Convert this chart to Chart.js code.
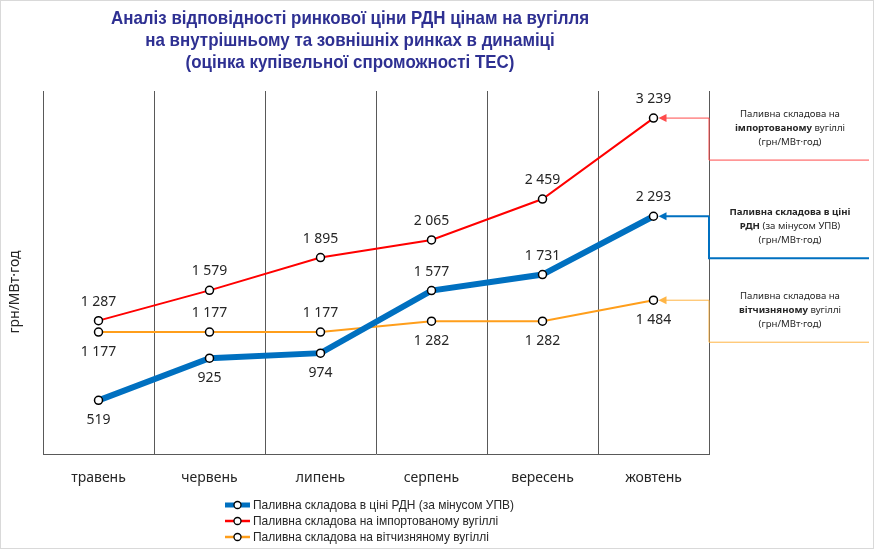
<!DOCTYPE html>
<html>
<head>
<meta charset="utf-8">
<script src="https://cdn.jsdelivr.net/npm/chart.js@4/dist/chart.umd.min.js"></script>
<style>
  html, body { margin: 0; padding: 0; background: #fff; }
  #wrap { width: 874px; height: 549px; position: relative; }
</style>
</head>
<body>
<div id="wrap"><canvas id="chart"></canvas></div>
<script>
// Data
const months = ['травень', 'червень', 'липень', 'серпень', 'вересень', 'жовтень'];
const rdnValues = [519, 925, 974, 1577, 1731, 2293];
const importValues = [1287, 1579, 1895, 2065, 2459, 3239];
const domesticValues = [1177, 1177, 1177, 1282, 1282, 1484];
const yRange = [0, 3500];

const titleLines = [
    'Аналіз відповідності ринкової ціни РДН цінам на вугілля',
    'на внутрішньому та зовнішніх ринках в динаміці',
    '(оцінка купівельної спроможності ТЕС)'
];
const seriesNames = [
    'Паливна складова в ціні РДН (за мінусом УПВ)',
    'Паливна складова на імпортованому вугіллі',
    'Паливна складова на вітчизняному вугіллі'
];
// side notes: [text, bold] segments per line
const sideNotes = [
    [[['Паливна складова в ціні', true]], [['РДН', true], [' (за мінусом УПВ)', false]], [['(грн/МВт·год)', false]]],
    [[['Паливна складова на', false]], [['імпортованому', true], [' вугіллі', false]], [['(грн/МВт·год)', false]]],
    [[['Паливна складова на', false]], [['вітчизняному', true], [' вугіллі', false]], [['(грн/МВт·год)', false]]]
];

const fmt = v => String(v).replace(/\B(?=(\d{3})+(?!\d))/g, ' ');
const sans = "'Noto Sans', 'Open Sans', sans-serif";
const lib = "'Liberation Sans', Arial, sans-serif";

// draw text squeezed horizontally (stand-in for a condensed face)
function squeezed(ctx, text, x, y, sx, align) {
    ctx.save();
    ctx.translate(x, y);
    ctx.scale(sx, 1);
    ctx.textAlign = align;
    ctx.fillText(text, 0, 0);
    ctx.restore();
}

const extras = {
    id: 'extras',
    afterDatasetsDraw(chart) {
        const ctx = chart.ctx;
        ctx.save();
        ctx.font = '14px ' + sans;
        ctx.fillStyle = '#262626';
        ctx.textAlign = 'center';
        ctx.textBaseline = 'middle';
        chart.data.datasets.forEach((ds, i) => {
            const meta = chart.getDatasetMeta(i);
            meta.data.forEach((pt, j) => {
                const dy = ds.labelPos[j] === 'below' ? 20 : -19;
                ctx.fillText(fmt(ds.data[j]), pt.x, pt.y + dy);
            });
        });
        ctx.restore();
    },
    afterDraw(chart) {
        const ctx = chart.ctx;
        const area = chart.chartArea;
        const W = chart.width, H = chart.height;
        ctx.save();

        // frame
        ctx.strokeStyle = '#d9d9d9';
        ctx.lineWidth = 1;
        ctx.strokeRect(0.5, 0.5, W - 1, H - 1);

        // title
        ctx.fillStyle = '#2E3092';
        ctx.font = 'bold 19px ' + lib;
        ctx.textBaseline = 'middle';
        const tsx = 478 / ctx.measureText(titleLines[0]).width;
        titleLines.forEach((t, k) => squeezed(ctx, t, 350, 19 + k * 22, tsx, 'center'));

        // y axis title
        ctx.save();
        ctx.translate(15, 292);
        ctx.rotate(-Math.PI / 2);
        ctx.fillStyle = '#262626';
        ctx.font = '14px ' + sans;
        ctx.textAlign = 'center';
        ctx.fillText('грн/МВт·год', 0, 0);
        ctx.restore();

        // side annotations
        chart.data.datasets.forEach((ds, i) => {
            const meta = chart.getDatasetMeta(i);
            const pt = meta.data[meta.data.length - 1];
            const xr = area.right;
            ctx.strokeStyle = ds.noteColor;
            ctx.fillStyle = ds.noteColor;
            ctx.lineWidth = ds.noteWidth;
            ctx.beginPath();
            ctx.moveTo(xr, pt.y);
            ctx.lineTo(pt.x + 12, pt.y);
            ctx.stroke();
            ctx.beginPath();
            ctx.moveTo(pt.x + 5, pt.y);
            ctx.lineTo(pt.x + 13, pt.y - 4);
            ctx.lineTo(pt.x + 13, pt.y + 4);
            ctx.closePath();
            ctx.fill();
            ctx.beginPath();
            ctx.moveTo(xr, pt.y);
            ctx.lineTo(xr, pt.y + 42);
            ctx.lineTo(W - 5, pt.y + 42);
            ctx.stroke();

            ctx.fillStyle = '#262626';
            ctx.textAlign = 'left';
            sideNotes[i].forEach((line, k) => {
                let total = 0;
                line.forEach(([s, b]) => {
                    ctx.font = (b ? 'bold ' : '') + '9.6px ' + sans;
                    total += ctx.measureText(s).width;
                });
                let x = 790 - total / 2;
                line.forEach(([s, b]) => {
                    ctx.font = (b ? 'bold ' : '') + '9.6px ' + sans;
                    ctx.fillText(s, x, pt.y - 4 + k * 14);
                    x += ctx.measureText(s).width;
                });
            });
        });

        // legend
        ctx.font = '13px ' + lib;
        const lsx = 261 / ctx.measureText(seriesNames[0]).width;
        chart.data.datasets.forEach((ds, i) => {
            const y = 505 + i * 16;
            ctx.strokeStyle = ds.borderColor;
            ctx.lineWidth = ds.legendWidth;
            ctx.beginPath();
            ctx.moveTo(225, y);
            ctx.lineTo(250, y);
            ctx.stroke();
            ctx.beginPath();
            ctx.arc(237.5, y, 3.5, 0, Math.PI * 2);
            ctx.fillStyle = '#fff';
            ctx.fill();
            ctx.strokeStyle = '#000';
            ctx.lineWidth = 1.3;
            ctx.stroke();
            ctx.fillStyle = '#262626';
            ctx.font = '13px ' + lib;
            ctx.textBaseline = 'middle';
            squeezed(ctx, seriesNames[i], 253, y, lsx, 'left');
        });
        ctx.restore();
    }
};

const pointStyle = {
    pointRadius: 4,
    pointBackgroundColor: '#fff',
    pointBorderColor: '#000',
    pointBorderWidth: 1.5,
    tension: 0
};

new Chart(document.getElementById('chart'), {
    type: 'line',
    data: {
        labels: months,
        datasets: [{
            label: seriesNames[0],
            data: rdnValues,
            borderColor: '#0070C0',
            borderWidth: 6,
            labelPos: ['below', 'below', 'below', 'above', 'above', 'above'],
            noteColor: '#0070C0', noteWidth: 2, legendWidth: 5,
            ...pointStyle
        }, {
            label: seriesNames[1],
            data: importValues,
            borderColor: '#FF0000',
            borderWidth: 2,
            labelPos: ['above', 'above', 'above', 'above', 'above', 'above'],
            noteColor: '#FF4B4B', noteWidth: 1, legendWidth: 2.5,
            ...pointStyle
        }, {
            label: seriesNames[2],
            data: domesticValues,
            borderColor: '#FF9E1B',
            borderWidth: 2,
            labelPos: ['below', 'above', 'above', 'below', 'below', 'below'],
            noteColor: '#FFB545', noteWidth: 1, legendWidth: 2.5,
            ...pointStyle
        }]
    },
    options: {
        responsive: true,
        maintainAspectRatio: false,
        animation: false,
        layout: { padding: { left: 43, right: 165, top: 91, bottom: 48 } },
        plugins: {
            legend: { display: false },
            title: { display: false },
            tooltip: { enabled: false }
        },
        scales: {
            x: {
                offset: true,
                grid: { offset: true, color: '#595959', lineWidth: 1, drawTicks: false },
                border: { color: '#595959', width: 1 },
                ticks: { color: '#262626', font: { size: 14, family: 'Noto Sans' }, padding: 15 }
            },
            y: {
                display: false,
                min: yRange[0],
                max: yRange[1]
            }
        }
    },
    plugins: [extras]
});
</script>
</body>
</html>
